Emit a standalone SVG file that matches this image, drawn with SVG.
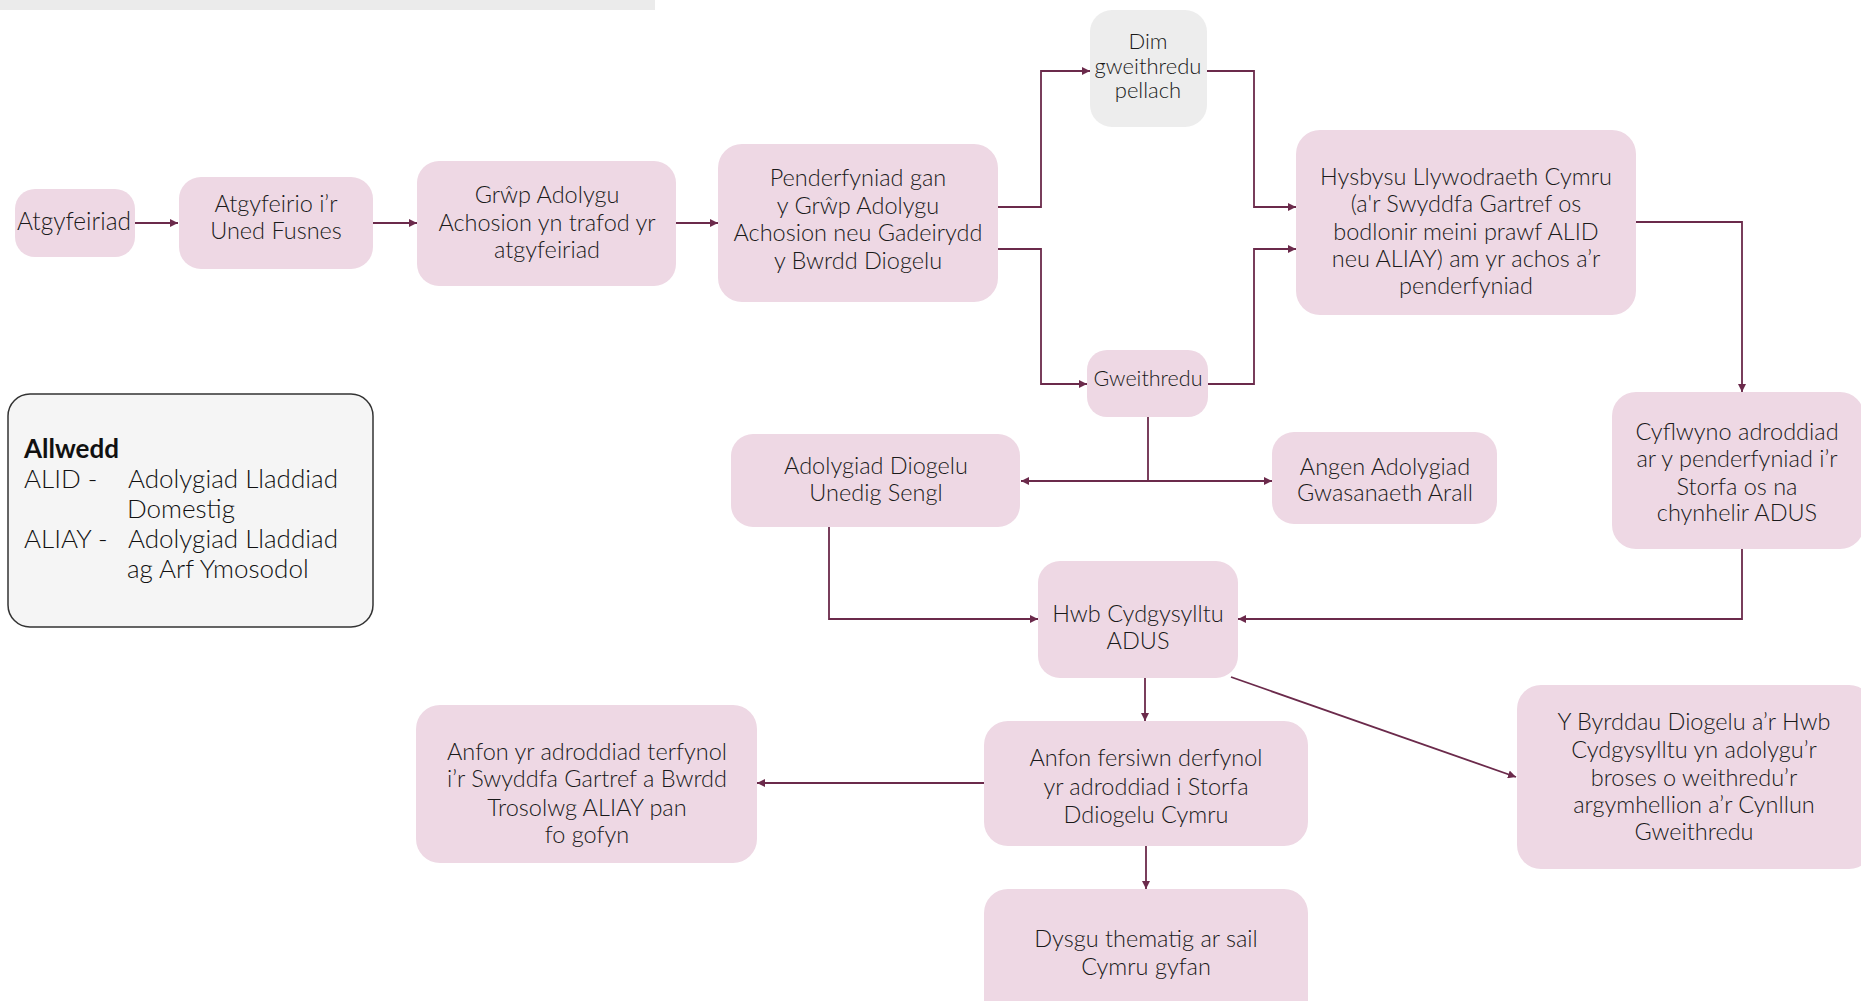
<svg xmlns="http://www.w3.org/2000/svg" width="1861" height="1001" viewBox="0 0 1861 1001">
<defs>
<marker id="ah" markerUnits="userSpaceOnUse" markerWidth="9" markerHeight="8" refX="8" refY="4" orient="auto">
<path d="M0,0 L8,4 L0,8 Z" fill="#6B2A4B"/>
</marker>
<style>
.n{fill:#EED8E4}
.g{fill:#EDEDED}
.t{font-family:Lato,"Open Sans","Liberation Sans",sans-serif;font-weight:300;font-size:23.5px;fill:#1A1A1A;text-anchor:middle}
.c{fill:none;stroke:#6B2A4B;stroke-width:1.8}
.a{marker-end:url(#ah)}
.lg{font-family:Lato,"Open Sans","Liberation Sans",sans-serif;font-size:26px;fill:#111;font-weight:300}
</style>
</defs>
<rect x="0" y="0" width="655" height="10" fill="#EBEBEB"/>
<g id="connectors">
<path class="c a" d="M135,223 H178"/>
<path class="c a" d="M373,223 H417"/>
<path class="c a" d="M676,223 H718"/>
<path class="c a" d="M998,207 H1041 V71 H1090"/>
<path class="c a" d="M998,249 H1041 V384 H1087"/>
<path class="c a" d="M1207,71 H1254 V207 H1296"/>
<path class="c a" d="M1208,384 H1254 V249 H1296"/>
<path class="c a" d="M1636,222 H1742 V392"/>
<path class="c" d="M1148,417 V481"/>
<path class="c a" d="M1148,481 H1021"/>
<path class="c a" d="M1148,481 H1272"/>
<path class="c a" d="M829,527 V619 H1038"/>
<path class="c a" d="M1742,549 V619 H1238"/>
<path class="c a" d="M1145,678 V721"/>
<path class="c a" d="M1231,677 L1516,777"/>
<path class="c a" d="M984,783 H757"/>
<path class="c a" d="M1146,846 V889"/>
</g>
<g id="legend">
<rect x="8" y="394" width="365" height="233" rx="22" fill="#F5F5F5" stroke="#333" stroke-width="1.5"/>
<text class="lg" x="24" y="458" style="font-weight:700">Allwedd</text>
<text class="lg" x="24" y="488">ALID -</text>
<text class="lg" x="128" y="488">Adolygiad Lladdiad</text>
<text class="lg" x="127" y="518">Domestig</text>
<text class="lg" x="24" y="548">ALIAY -</text>
<text class="lg" x="128" y="548">Adolygiad Lladdiad</text>
<text class="lg" x="127" y="578">ag Arf Ymosodol</text>
</g>
<g id="n1"><rect class="n" x="15" y="189" width="120" height="68" rx="20"/>
<text class="t" x="74" y="230" style="font-size:24.5px">Atgyfeiriad</text></g>
<g id="n2"><rect class="n" x="179" y="177" width="194" height="92" rx="22"/>
<text class="t" x="276"><tspan x="276" y="212">Atgyfeirio i’r</tspan><tspan x="276" y="239">Uned Fusnes</tspan></text></g>
<g id="n3"><rect class="n" x="417" y="161" width="259" height="125" rx="22"/>
<text class="t"><tspan x="547" y="203">Grŵp Adolygu</tspan><tspan x="547" y="231">Achosion yn trafod yr</tspan><tspan x="547" y="258">atgyfeiriad</tspan></text></g>
<g id="n4"><rect class="n" x="718" y="144" width="280" height="158" rx="24"/>
<text class="t"><tspan x="858" y="186">Penderfyniad gan</tspan><tspan x="858" y="214">y Grŵp Adolygu</tspan><tspan x="858" y="241">Achosion neu Gadeirydd</tspan><tspan x="858" y="269">y Bwrdd Diogelu</tspan></text></g>
<g id="n5"><rect class="g" x="1090" y="10" width="117" height="117" rx="22"/>
<text class="t" style="font-size:22px"><tspan x="1148" y="49">Dim</tspan><tspan x="1148" y="74">gweithredu</tspan><tspan x="1148" y="98">pellach</tspan></text></g>
<g id="n6"><rect class="n" x="1296" y="130" width="340" height="185" rx="24"/>
<text class="t"><tspan x="1466" y="185">Hysbysu Llywodraeth Cymru</tspan><tspan x="1466" y="212">(a'r Swyddfa Gartref os</tspan><tspan x="1466" y="240">bodlonir meini prawf ALID</tspan><tspan x="1466" y="267">neu ALIAY) am yr achos a’r</tspan><tspan x="1466" y="294">penderfyniad</tspan></text></g>
<g id="n7"><rect class="n" x="1087" y="350" width="121" height="67" rx="20"/>
<text class="t" x="1148" y="386" style="font-size:21.5px">Gweithredu</text></g>
<g id="n8"><rect class="n" x="731" y="434" width="289" height="93" rx="22"/>
<text class="t"><tspan x="876" y="474">Adolygiad Diogelu</tspan><tspan x="876" y="501">Unedig Sengl</tspan></text></g>
<g id="n9"><rect class="n" x="1272" y="432" width="225" height="92" rx="22"/>
<text class="t"><tspan x="1385" y="475">Angen Adolygiad</tspan><tspan x="1385" y="501">Gwasanaeth Arall</tspan></text></g>
<g id="n10"><rect class="n" x="1612" y="392" width="252" height="157" rx="24"/>
<text class="t"><tspan x="1737" y="440">Cyflwyno adroddiad</tspan><tspan x="1737" y="467">ar y penderfyniad i’r</tspan><tspan x="1737" y="495">Storfa os na</tspan><tspan x="1737" y="521">chynhelir ADUS</tspan></text></g>
<g id="n11"><rect class="n" x="1038" y="561" width="200" height="117" rx="22"/>
<text class="t"><tspan x="1138" y="622">Hwb Cydgysylltu</tspan><tspan x="1138" y="649">ADUS</tspan></text></g>
<g id="n12"><rect class="n" x="984" y="721" width="324" height="125" rx="24"/>
<text class="t"><tspan x="1146" y="766">Anfon fersiwn derfynol</tspan><tspan x="1146" y="795">yr adroddiad i Storfa</tspan><tspan x="1146" y="823">Ddiogelu Cymru</tspan></text></g>
<g id="n13"><rect class="n" x="416" y="705" width="341" height="158" rx="24"/>
<text class="t"><tspan x="587" y="760">Anfon yr adroddiad terfynol</tspan><tspan x="587" y="787">i’r Swyddfa Gartref a Bwrdd</tspan><tspan x="587" y="816">Trosolwg ALIAY pan</tspan><tspan x="587" y="843">fo gofyn</tspan></text></g>
<g id="n14"><rect class="n" x="1517" y="685" width="356" height="184" rx="24"/>
<text class="t"><tspan x="1694" y="730">Y Byrddau Diogelu a’r Hwb</tspan><tspan x="1694" y="758">Cydgysylltu yn adolygu’r</tspan><tspan x="1694" y="786">broses o weithredu’r</tspan><tspan x="1694" y="813">argymhellion a’r Cynllun</tspan><tspan x="1694" y="840">Gweithredu</tspan></text></g>
<g id="n15"><rect class="n" x="984" y="889" width="324" height="135" rx="24"/>
<text class="t"><tspan x="1146" y="947">Dysgu thematig ar sail</tspan><tspan x="1146" y="975">Cymru gyfan</tspan></text></g>
</svg>
